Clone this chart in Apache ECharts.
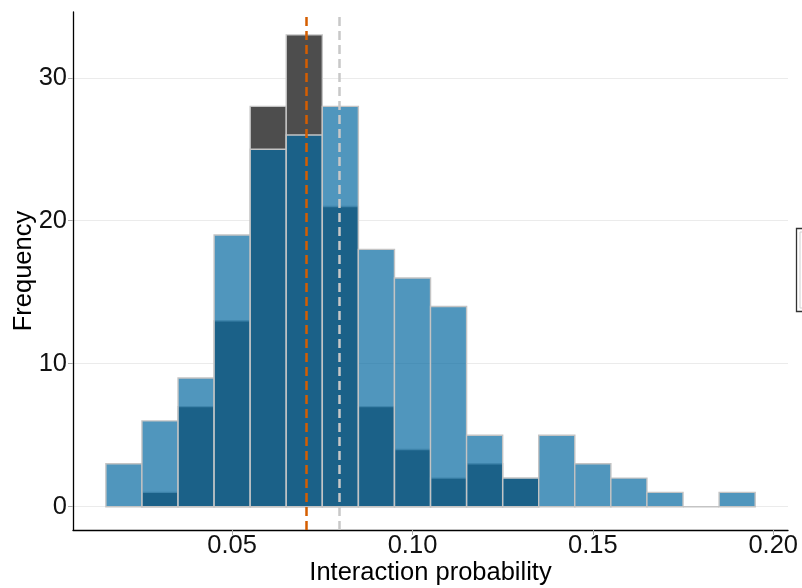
<!DOCTYPE html>
<html>
<head>
<meta charset="utf-8">
<script src="https://cdn.jsdelivr.net/npm/echarts@6/dist/echarts.min.js"></script>
<style>
  html, body { margin: 0; padding: 0; background: #ffffff; }
  #chart { width: 802px; height: 588px; }
</style>
</head>
<body>
<div id="chart"></div>
<script>
  // bins: left edges, width 0.01
  var binLeft = [0.015, 0.025, 0.035, 0.045, 0.055, 0.065, 0.075, 0.085, 0.095, 0.105,
                 0.115, 0.125, 0.135, 0.145, 0.155, 0.165, 0.175, 0.185];
  var binWidth = 0.01;
  // dark gray histogram (drawn behind)
  var grayCounts = [0, 1, 7, 13, 28, 33, 21, 7, 4, 2, 3, 2, 0, 0, 0, 0, 0, 0];
  // blue histogram (semi transparent, drawn on top)
  var blueCounts = [3, 6, 9, 19, 25, 26, 28, 18, 16, 14, 5, 2, 5, 3, 2, 1, 0, 1];
  // vertical reference lines
  var orangeLineX = 0.0706;
  var grayLineX = 0.0797;
  var xTicks = [0.05, 0.10, 0.15, 0.20];
  var yTicks = [0, 10, 20, 30];

  function toBins(counts, keepZero) {
    var out = [];
    for (var i = 0; i < binLeft.length; i++) {
      if (counts[i] > 0 || keepZero) {
        out.push([binLeft[i], binLeft[i] + binWidth, counts[i]]);
      }
    }
    return out;
  }

  function makeRender(fill) {
    return function (params, api) {
      var p0 = api.coord([api.value(0), api.value(2)]);
      var p1 = api.coord([api.value(1), 0]);
      return {
        type: 'rect',
        shape: { x: p0[0], y: p0[1], width: p1[0] - p0[0], height: p1[1] - p0[1] },
        style: { fill: fill, stroke: '#c4c4c4', lineWidth: 1.4 }
      };
    };
  }

  var myChart = echarts.init(document.getElementById('chart'));
  var font = 'Liberation Sans, Arial, sans-serif';

  var option = {
    animation: false,
    grid: { left: 73, right: 14, top: 12, bottom: 58, containLabel: false, outerBoundsMode: 'none' },
    xAxis: {
      type: 'value',
      min: 0.00588,
      max: 0.2041,
      name: 'Interaction probability',
      nameLocation: 'middle',
      nameGap: 30,
      nameMoveOverlap: false,
      nameTextStyle: { fontSize: 25.5, color: '#000', fontFamily: font },
      axisLine: { show: true, onZero: false, lineStyle: { color: '#000', width: 1.3 } },
      axisTick: { show: true, length: 5, customValues: xTicks, lineStyle: { color: '#aaa' } },
      axisLabel: {
        customValues: xTicks, margin: 3, fontSize: 25.5, color: '#111', fontFamily: font,
        formatter: function (v) { return v.toFixed(2); }
      },
      splitLine: { show: false }
    },
    yAxis: {
      type: 'value',
      min: -1.63,
      max: 34.6,
      name: 'Frequency',
      nameLocation: 'middle',
      nameGap: 36,
      nameMoveOverlap: false,
      nameTextStyle: { fontSize: 25.5, color: '#000', fontFamily: font },
      axisLine: { show: true, onZero: false, lineStyle: { color: '#000', width: 1.3 } },
      axisTick: { show: true, length: 5, customValues: yTicks, lineStyle: { color: '#aaa' } },
      axisLabel: { customValues: yTicks, margin: 6, fontSize: 25.5, color: '#111', fontFamily: font },
      splitLine: { show: true, lineStyle: { color: '#ebebeb', width: 1.2 } }
    },
    series: [
      {
        name: 'gray',
        type: 'custom',
        renderItem: makeRender('#4d4d4d'),
        data: toBins(grayCounts, false),
        z: 2
      },
      {
        name: 'blue',
        type: 'custom',
        renderItem: makeRender('rgba(6,105,161,0.7)'),
        data: toBins(blueCounts, true),
        z: 3
      },
      {
        type: 'line',
        data: [],
        z: 5,
        markLine: {
          silent: true,
          symbol: 'none',
          precision: 4,
          label: { show: false },
          data: [
            { xAxis: grayLineX, lineStyle: { color: '#c8c8c8', width: 2.5, type: [9, 5] } },
            { xAxis: orangeLineX, lineStyle: { color: '#d55e00', width: 2.5, type: [9, 5] } }
          ]
        }
      }
    ],
    graphic: [
      {
        type: 'rect',
        shape: { x: 796.5, y: 228.5, width: 20, height: 83 },
        style: { fill: '#ffffff', stroke: '#333', lineWidth: 1.3 }
      },
      {
        type: 'rect',
        shape: { x: 800, y: 232, width: 12, height: 76 },
        style: { fill: '#ffffff', stroke: '#d0d0d0', lineWidth: 1 }
      }
    ]
  };

  myChart.setOption(option);
</script>
</body>
</html>
